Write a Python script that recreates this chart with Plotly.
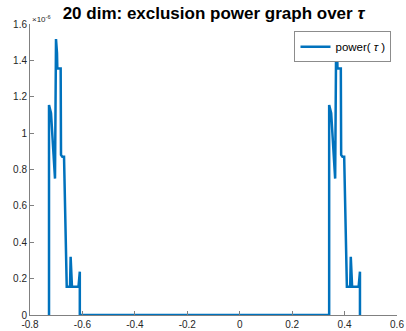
import plotly.graph_objects as go

# left peak group then zero stretch then right peak group
tau = [-0.7275, -0.7275, -0.7198, -0.7046, -0.7008, -0.6970, -0.6958, -0.6830, -0.6817, -0.6767, -0.6702,
       -0.6626, -0.6599, -0.6473, -0.6450, -0.6399, -0.6150, -0.6100, -0.6100,
       0.3412, 0.3412, 0.3489, 0.3641, 0.3679, 0.3717, 0.3729, 0.3857, 0.3870, 0.3920, 0.3985,
       0.4061, 0.4088, 0.4214, 0.4237, 0.4288, 0.4537, 0.4587, 0.4587]
power = [0, 1.155, 1.11, 0.75, 1.517, 1.44, 1.356, 1.356, 0.88, 0.87, 0.87,
         0.238, 0.156, 0.156, 0.32, 0.156, 0.156, 0.238, 0,
         0, 1.155, 1.11, 0.75, 1.517, 1.44, 1.356, 1.356, 0.88, 0.87, 0.87,
         0.238, 0.156, 0.156, 0.32, 0.156, 0.156, 0.238, 0]
power_scaled = [p * 1e-6 for p in power]

xticks = [-0.8, -0.6, -0.4, -0.2, 0, 0.2, 0.4, 0.6]
xticklabels = ["-0.8", "-0.6", "-0.4", "-0.2", "0", "0.2", "0.4", "0.6"]
yticks = [0, 0.2, 0.4, 0.6, 0.8, 1.0, 1.2, 1.4, 1.6]
yticklabels = ["0", "0.2", "0.4", "0.6", "0.8", "1", "1.2", "1.4", "1.6"]

fig = go.Figure()
fig.add_trace(go.Scatter(x=tau, y=power_scaled, mode="lines", name="power( <i>τ</i> )",
                         line=dict(color="#0072BD", width=2.5)))

axcol = "#808080"
fig.update_layout(
    width=406, height=331,
    margin=dict(l=30, r=9, t=24, b=16, autoexpand=False),
    paper_bgcolor="white", plot_bgcolor="white",
    font=dict(family="Liberation Sans, Arial, sans-serif", color="#262626", size=10),
    title=dict(text="<b>20 dim: exclusion power graph over <i>τ</i></b>",
               x=(30 + 397) / 2 / 406, xanchor="center", y=1 - 13 / 331, yanchor="middle",
               font=dict(size=17, color="black")),
    showlegend=True,
    legend=dict(x=0.985, y=0.975, xanchor="right", yanchor="top",
                bordercolor="#8c8c8c", borderwidth=1, bgcolor="white",
                font=dict(size=11.5, color="black"), tracegroupgap=0,
                itemwidth=30),
)
fig.update_xaxes(range=[-0.8, 0.6], tickvals=xticks, ticktext=xticklabels, automargin=False,
                 ticks="inside", ticklen=4, tickcolor=axcol, showline=True, linecolor=axcol,
                 linewidth=1, showgrid=False, zeroline=False, tickfont=dict(size=10))
fig.update_yaxes(range=[0, 1.6e-6], tickvals=[v * 1e-6 for v in yticks], ticktext=yticklabels,
                 automargin=False,
                 ticks="inside", ticklen=4, tickcolor=axcol, showline=True, linecolor=axcol,
                 linewidth=1, showgrid=False, zeroline=False, tickfont=dict(size=10))
fig.add_annotation(text="×10<sup>-6</sup>", xref="paper", yref="paper", x=0, y=1,
                   xanchor="left", yanchor="bottom", showarrow=False,
                   font=dict(size=8, color="#262626"), xshift=0, yshift=-2)
fig.write_html("out.html")
